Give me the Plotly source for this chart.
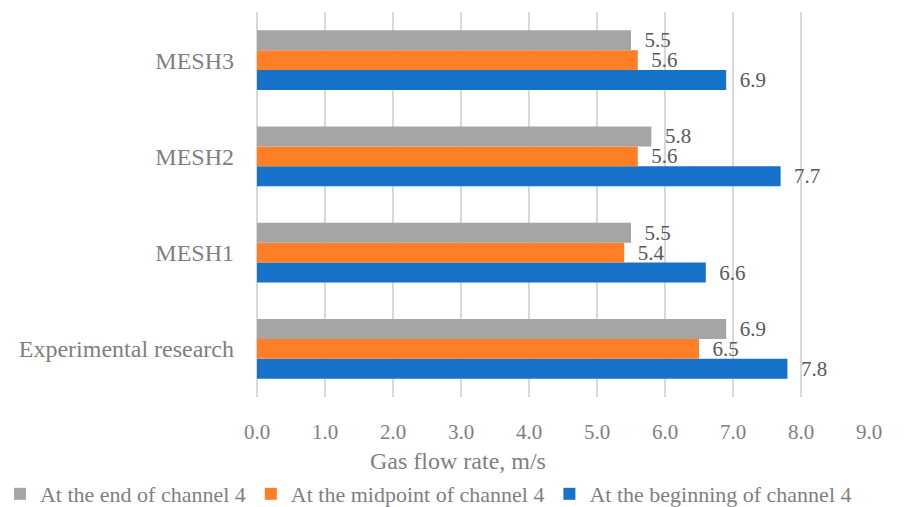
import plotly.graph_objects as go

# Data
categories = ["Experimental research", "MESH1", "MESH2", "MESH3"]
end_of_channel = [6.9, 5.5, 5.8, 5.5]
midpoint_of_channel = [6.5, 5.4, 5.6, 5.6]
beginning_of_channel = [7.8, 6.6, 7.7, 6.9]
x_ticks = [0, 1, 2, 3, 4, 5, 6, 7, 8, 9]

FONT = "Liberation Serif"
TICK_COLOR = "#7F7F7F"
LABEL_COLOR = "#595959"
GRID_COLOR = "#D9D9D9"

series = [
    ("At the beginning of channel 4", beginning_of_channel, "#1671C8"),
    ("At the midpoint of channel 4", midpoint_of_channel, "#FF7F27"),
    ("At the end of channel 4", end_of_channel, "#A5A5A5"),
]

fig = go.Figure()
for name, values, color in series:
    fig.add_trace(go.Bar(
        y=categories,
        x=values,
        name=name,
        orientation="h",
        marker=dict(color=color, line=dict(width=0)),
        texttemplate="\u00a0\u00a0%{x:.1f}",
        textposition="outside",
        constraintext="none",
        textfont=dict(family=FONT, size=21, color=LABEL_COLOR),
        cliponaxis=False,
    ))

fig.add_annotation(
    text="Gas flow rate, m/s",
    xref="paper", yref="paper",
    x=0.328, y=-0.166,
    xanchor="center", yanchor="middle",
    showarrow=False,
    font=dict(family=FONT, size=24, color=TICK_COLOR),
)

fig.update_layout(
    width=907,
    height=507,
    margin=dict(l=257, r=38, t=12, b=110, autoexpand=False),
    paper_bgcolor="white",
    plot_bgcolor="white",
    barmode="group",
    bargap=0.38,
    bargroupgap=0,
    font=dict(family=FONT, size=21, color=TICK_COLOR),
    xaxis=dict(
        range=[0, 9],
        tickvals=x_ticks,
        ticktext=[f"{v:.1f}" for v in x_ticks],
        showgrid=True,
        gridcolor=GRID_COLOR,
        gridwidth=2,
        zeroline=True,
        zerolinecolor=GRID_COLOR,
        zerolinewidth=2,
        showline=False,
        ticklabelstandoff=20,
        tickfont=dict(family=FONT, size=21, color=TICK_COLOR),
    ),
    yaxis=dict(
        categoryorder="array",
        categoryarray=categories,
        showgrid=False,
        zeroline=False,
        showline=False,
        ticklabelstandoff=22,
        tickfont=dict(family=FONT, size=24, color=TICK_COLOR),
    ),
    legend=dict(
        orientation="h",
        traceorder="reversed",
        x=-0.42, y=-0.252,
        xanchor="left", yanchor="middle",
        font=dict(family=FONT, size=22, color=TICK_COLOR),
        itemwidth=30,
        tracegroupgap=0,
    ),
)

fig.write_html("out.html")
